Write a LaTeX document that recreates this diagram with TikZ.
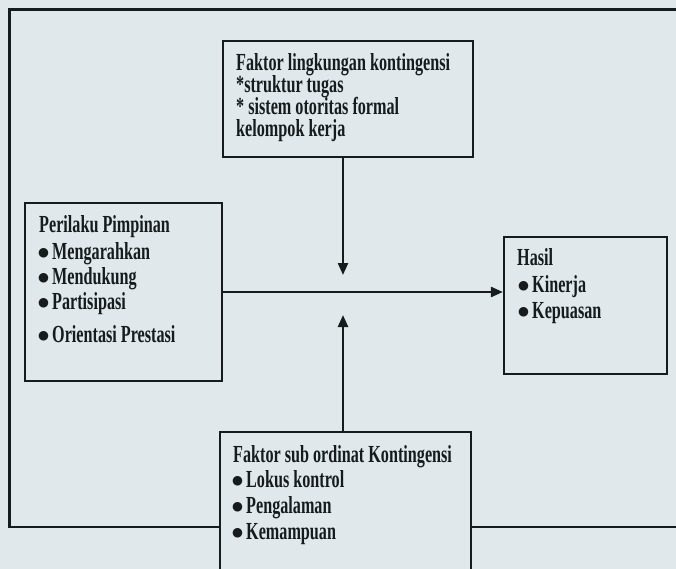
\documentclass[tikz,border=0pt]{standalone}
\usepackage{fontspec}
\setmainfont{Liberation Serif}[FakeStretch=0.66]
\newfontfamily\symf{DejaVu Sans}
\usetikzlibrary{arrows.meta}
\definecolor{pagebg}{RGB}{224,232,236}
\definecolor{ink}{RGB}{22,28,30}
\newcommand{\bul}{\makebox[9pt][l]{\raisebox{2.5pt}{\symf\fontsize{12.5}{12.5}\selectfont ●}}\hspace{5pt}}
\tikzset{
  box/.style={draw=ink, line width=2.2pt, fill=pagebg, inner sep=0pt},
  txt/.style={anchor=base west, inner sep=0pt, text=ink, font=\fontsize{24.5}{26}\selectfont\bfseries},
  conn/.style={draw=ink, line width=2.4pt, -{Triangle[length=12pt,width=10pt]}},
  framel/.style={draw=ink, line width=2.2pt}
}
\begin{document}
\begin{tikzpicture}[x=1pt,y=-1pt]
\useasboundingbox (0,0) rectangle (676,569);
\clip (0,0) rectangle (676,569);
\fill[pagebg] (0,0) rectangle (676,569);
% outer frame
\draw[framel] (9.5,9.5) rectangle (720,527);
% boxes
\node[box, minimum width=250pt, minimum height=116pt] (top) at (348,99) {};
\node[box, minimum width=197pt, minimum height=178pt] (left) at (123.5,292) {};
\node[box, minimum width=163pt, minimum height=137pt] (hasil) at (585.5,305.5) {};
\node[box, minimum width=251pt, minimum height=168pt] (bot) at (345.5,516) {};
% texts top
\node[txt] (t1) at (236,71) {Faktor lingkungan kontingensi};
\node[txt] (t2) at (236,93) {*struktur tugas};
\node[txt] (t3) at (236,115) {* sistem otoritas formal};
\node[txt] (t4) at (236,137) {kelompok kerja};
% texts left
\node[txt] (l0) at (39,232) {Perilaku Pimpinan};
\node[txt] (l1) at (38,259) {\bul Mengarahkan};
\node[txt] (l2) at (38,284) {\bul Mendukung};
\node[txt] (l3) at (38,309) {\bul Partisipasi};
\node[txt] (l4) at (38,342) {\bul Orientasi Prestasi};
% texts hasil
\node[txt] (h0) at (517,265) {Hasil};
\node[txt] (h1) at (518,292) {\bul Kinerja};
\node[txt] (h2) at (518,318) {\bul Kepuasan};
% texts bottom
\node[txt] (b0) at (233,462) {Faktor sub ordinat Kontingensi};
\node[txt] (b1) at (232,487) {\bul Lokus kontrol};
\node[txt] (b2) at (232,513) {\bul Pengalaman};
\node[txt] (b3) at (232,539) {\bul Kemampuan};
% connectors
\coordinate (tipd) at (343,275);
\coordinate (tipu) at (343,315);
\draw[conn] (top.south -| tipd) -- (tipd);
\draw[conn] (bot.north -| tipu) -- (tipu);
\draw[conn] (left.east) -- (left.east -| hasil.west);
\end{tikzpicture}
\end{document}
